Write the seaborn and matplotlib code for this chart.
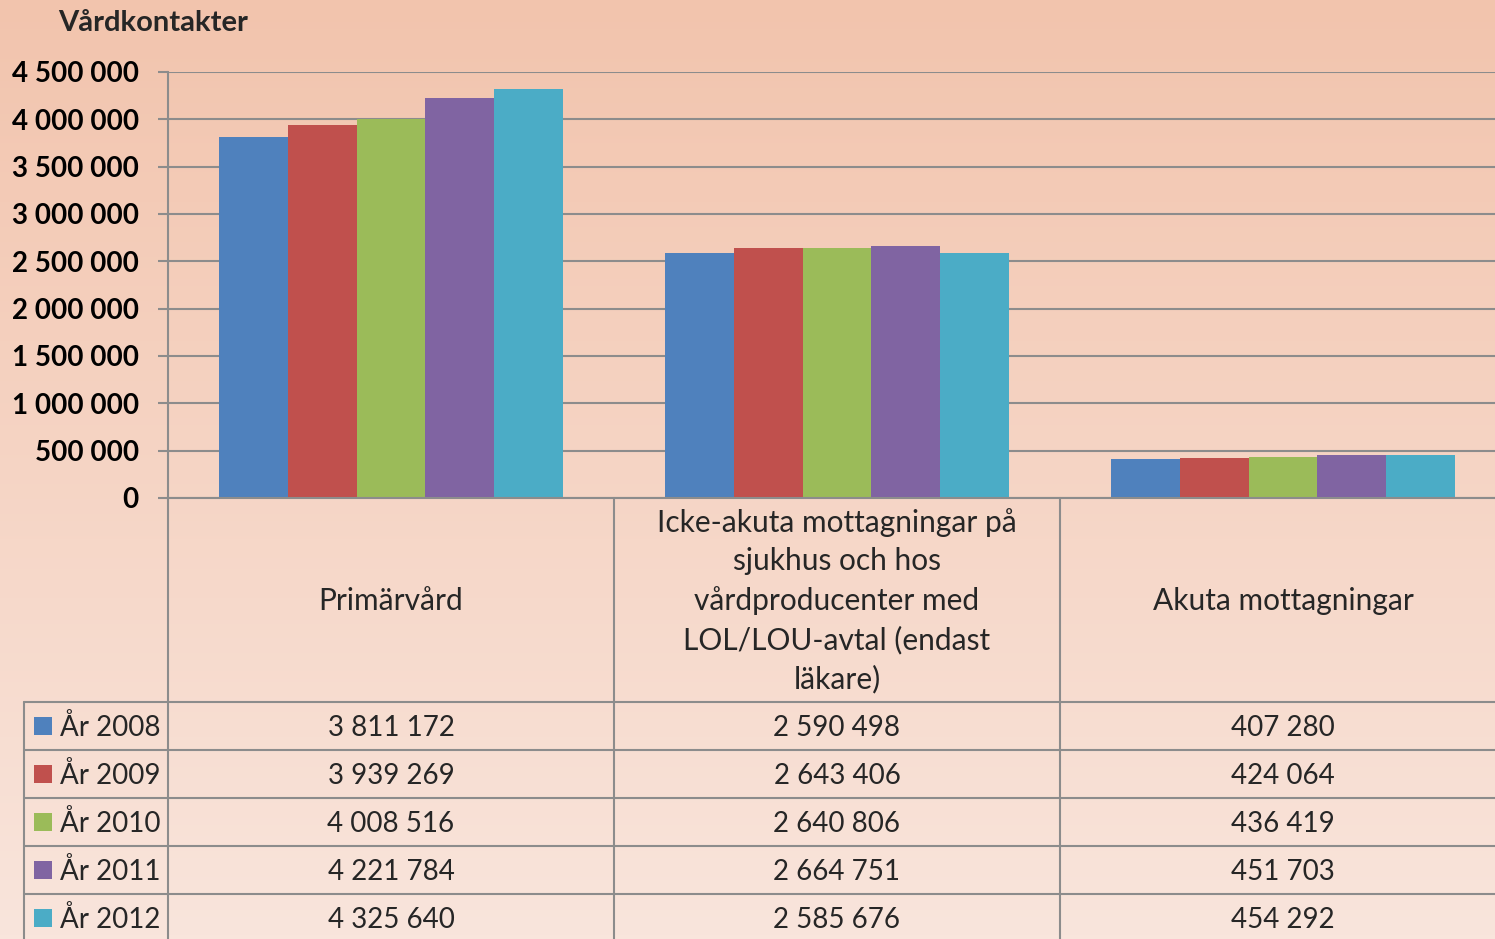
import numpy as np
import pandas as pd
import matplotlib
matplotlib.use("Agg")
import matplotlib.pyplot as plt
import matplotlib.transforms as mtransforms
from matplotlib.colors import LinearSegmentedColormap
import seaborn as sns

# --- data -------------------------------------------------------------
kategorier = [
    "Primärvård",
    "Icke-akuta mottagningar på\nsjukhus och hos\nvårdproducenter med\nLOL/LOU-avtal (endast\nläkare)",
    "Akuta mottagningar",
]
ar = ["År 2008", "År 2009", "År 2010", "År 2011", "År 2012"]
primarvard = [3811172, 3939269, 4008516, 4221784, 4325640]
icke_akuta = [2590498, 2643406, 2640806, 2664751, 2585676]
akuta = [407280, 424064, 436419, 451703, 454292]
farger = ["#4F81BD", "#C0504D", "#9BBB59", "#8064A2", "#4BACC6"]
yticks = [0, 500000, 1000000, 1500000, 2000000, 2500000, 3000000, 3500000, 4000000, 4500000]

serier = [primarvard, icke_akuta, akuta]
df = pd.DataFrame({
    "kategori": [k for k in kategorier for _ in ar],
    "ar": ar * len(kategorier),
    "antal": [v for s in serier for v in s],
})

def fmt(v):
    return f"{v:,}".replace(",", " ")

# --- figure -----------------------------------------------------------
sns.set_theme(style="white")
plt.rcParams["font.family"] = ["Lato", "DejaVu Sans"]

W, H = 1495, 939
fig = plt.figure(figsize=(W / 100, H / 100), dpi=100)

# background gradient
bg = fig.add_axes([0, 0, 1, 1], zorder=-10)
grad = LinearSegmentedColormap.from_list("bg", ["#F2C4AD", "#F9E5DC"])
bg.imshow(np.linspace(0, 1, 256).reshape(-1, 1), aspect="auto", cmap=grad,
          extent=[0, 1, 0, 1], origin="upper")
bg.set_axis_off()

grey = "#8C8C8C"
# plot area runs a little past the right edge of the picture
x0, x1 = 168 / W, 1506 / W
y_bot, y_top = 1 - 498 / H, 1 - 72 / H
ax = fig.add_axes([x0, y_bot, x1 - x0, y_top - y_bot])
ax.patch.set_alpha(0)

sns.barplot(data=df, x="kategori", y="antal", hue="ar", palette=farger,
            width=0.77, saturation=1, gap=0, edgecolor="none", legend=False, ax=ax)

ax.set_xlim(-0.5, 2.5)
ax.set_ylim(0, 4500000)
ax.set_yticks(yticks)
ax.set_yticklabels([fmt(t) for t in yticks], fontsize=20, fontweight="bold", color="black")
ax.set_xticks([])
ax.set_xlabel("")
ax.set_ylabel("")
ax.yaxis.grid(True, color=grey, lw=1.5)
ax.set_axisbelow(True)
ax.tick_params(axis="y", length=7, width=1.5, color=grey, pad=14, left=True)
for side in ["top", "right"]:
    ax.spines[side].set_visible(False)
for side in ["left", "bottom"]:
    ax.spines[side].set_color(grey)
    ax.spines[side].set_linewidth(1.5)

fig.text(58 / W, 1 - 23 / H, "Vårdkontakter", fontsize=21, fontweight="bold",
         ha="left", va="center")

# --- data table below the chart ---------------------------------------
tr = mtransforms.blended_transform_factory(ax.transData, fig.transFigure)
ftr = fig.transFigure

head_top = 1 - 498 / H
head_bot = 1 - 702 / H
row_h = 48 / H
n_rows = len(ar)
rows_y = [head_bot - i * row_h for i in range(n_rows + 1)]
bottom = rows_y[-1]
left_edge = 24 / W

line_kw = dict(color=grey, lw=1.5, clip_on=False)
# vertical lines at group boundaries
for b in [-0.5, 0.5, 1.5]:
    fig.add_artist(plt.Line2D([b, b], [head_top, bottom], transform=tr, **line_kw))
# legend column outer line
fig.add_artist(plt.Line2D([left_edge, left_edge], [head_bot, bottom], transform=ftr, **line_kw))
# horizontal lines
for y in rows_y[:-1]:
    fig.add_artist(plt.Line2D([left_edge, 1.0], [y, y], transform=ftr, **line_kw))

# header texts
for i, k in enumerate(kategorier):
    fig.text(i, (head_top + head_bot) / 2 - 1 / H, k, transform=tr, ha="center",
             va="center", fontsize=21.5, linespacing=1.45, multialignment="center")

# rows
for r, (lab, c) in enumerate(zip(ar, farger)):
    yc = rows_y[r] - row_h / 2
    fig.patches.append(plt.Rectangle((34 / W, yc - 9 / H), 18 / W, 18 / H,
                                     transform=ftr, facecolor=c, edgecolor="none"))
    fig.text(60 / W, yc - 1 / H, lab, transform=ftr, ha="left", va="center", fontsize=20)
    for i, s in enumerate(serier):
        fig.text(i, yc - 2 / H, fmt(s[r]), transform=tr, ha="center", va="center", fontsize=20)

fig.savefig("out.png", dpi=100)
